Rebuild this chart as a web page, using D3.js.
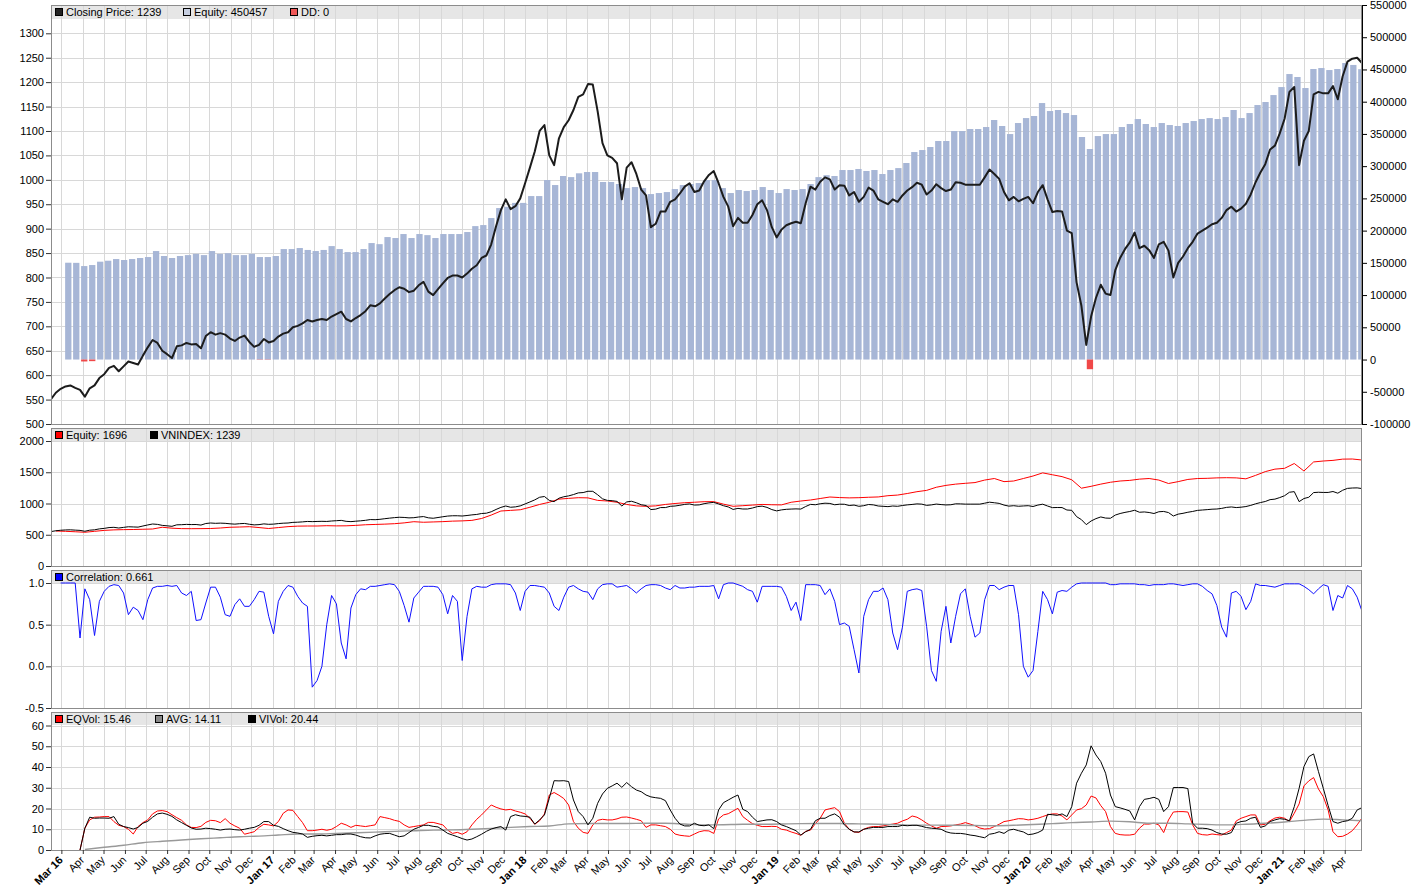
<!DOCTYPE html>
<html lang="en">
<head>
<meta charset="UTF-8">
<title>VNINDEX: equity, correlation and volatility</title>
<script src="https://d3js.org/d3.v7.min.js"></script>
<style>
  body { margin: 0; background: #fff; }
  svg text { font-family: "Liberation Sans", Arial, sans-serif; font-size: 11px; fill: #000; }
</style>
</head>
<body>
<svg id="chart" width="1412" height="891"></svg>
<script>
// weekly series, week 0 = 2016-02-15
const weekStart = "2016-02-15";
const axisEnd = "2021-04-26";

// VNINDEX closing price (weekly)
const closePrice = [
  551,564,572,577,579,574,570,556,573,579,
  594,602,615,619,608,618,628,625,622,640,
  657,672,666,650,643,635,659,661,666,663,
  664,655,680,688,683,686,683,675,670,677,
  681,668,658,662,674,667,670,679,685,688,
  698,701,706,713,710,713,715,713,720,725,
  730,715,710,717,723,731,743,741,747,757,
  766,774,780,777,770,773,784,791,771,764,
  776,788,799,804,804,800,808,818,825,840,
  845,868,905,938,960,940,946,962,993,1025,
  1058,1100,1112,1050,1030,1085,1108,1122,1143,1170,
  1175,1196,1195,1140,1075,1050,1045,1034,960,1025,
  1036,1012,980,968,903,910,935,935,955,960,
  972,986,993,975,978,997,1010,1018,993,965,
  945,905,922,912,912,928,950,958,938,903,
  882,898,907,911,914,911,952,986,980,996,
  1005,1001,980,989,988,968,975,955,965,984,
  978,960,955,950,960,955,968,978,985,994,
  990,970,978,991,983,977,980,995,994,990,
  990,990,990,1005,1021,1012,1002,975,958,965,
  956,961,965,952,975,989,960,934,936,935,
  896,891,790,742,662,720,758,785,767,764,
  815,840,858,872,892,860,865,856,840,868,
  873,855,800,830,843,860,873,890,896,902,
  909,912,922,938,945,935,941,951,970,995,
  1015,1032,1062,1070,1095,1125,1180,1190,1030,1080,
  1100,1175,1180,1177,1177,1192,1165,1212,1242,1248,
  1250,1239
];

// equity histogram, one bar every ~8 trading days
const firstBarDay = "2016-03-11";
const lastBarDay = "2021-04-25";
const equityBars = [
  150200,150000,145000,146600,151800,153300,155900,154400,155900,157500,
  159000,168300,160600,157500,160600,162000,164000,162000,168300,164000,
  165000,162000,162000,164000,159000,159000,160600,171400,171400,173000,
  170000,168300,170000,176000,171400,166700,166700,171400,180700,179000,
  190000,188500,194700,188500,194700,193000,188500,194700,194700,194700,
  197800,207000,208600,219500,235000,237000,243000,243000,253600,253600,
  278500,270700,284700,283000,288900,290900,290900,275400,275400,272300,
  266000,267600,266000,256700,258300,259800,264500,270700,272300,273800,
  278500,278500,266000,258300,263000,261400,263000,267600,263000,258300,
  264500,263000,264500,272300,283000,286000,284700,294000,294000,295600,
  292500,294000,287800,294000,297000,304900,321900,325000,329700,339000,
  339000,354500,354500,357600,357600,360700,371600,362300,349800,366900,
  374600,377800,397900,385500,387100,382400,379300,345200,326600,346700,
  349800,349800,360700,365400,373100,365400,360700,366900,363800,362300,
  366900,370000,373100,374600,373100,376200,387100,374600,382400,394800,
  399500,410300,422700,442900,438300,421200,450700,452200,449100,450700,
  460000,457000,450457
];
// drawdown bars (bar index, value)
const drawdownBars = [2, 3, 24, 25, 128];
const drawdownValues = [-3000, -2500, -400, -400, -15000];

// normalised equity, every second week starting at week 1
const equityLine = [
  560,555,548,540,555,570,578,582,584,588,
  592,620,605,598,597,598,600,608,620,624,
  629,615,600,615,630,638,640,640,645,642,
  643,650,660,665,670,677,690,709,700,705,
  710,718,722,730,760,815,880,890,900,940,
  985,1020,1070,1082,1093,1090,1050,1040,1020,985,
  962,955,962,985,1000,1013,1020,1029,1030,990,
  955,965,975,985,980,978,1020,1040,1056,1080,
  1104,1095,1090,1093,1100,1105,1125,1135,1160,1189,
  1210,1260,1290,1310,1323,1335,1375,1400,1350,1360,
  1400,1440,1490,1460,1430,1380,1245,1275,1310,1340,
  1360,1370,1390,1400,1375,1320,1350,1385,1400,1403,
  1410,1413,1410,1395,1450,1510,1550,1563,1640,1520,
  1665,1680,1690,1710,1712,1696
];

// correlation (weekly)
const correlation = [
  null,null,1.0,1.0,1.0,1.0,0.34,0.93,0.8,0.37,
  0.78,0.9,0.96,0.98,0.97,0.88,0.62,0.71,0.67,0.56,
  0.8,0.94,0.96,0.96,0.97,0.96,0.97,0.88,0.85,0.9,
  0.55,0.56,0.76,0.95,0.95,0.83,0.62,0.6,0.74,0.81,
  0.72,0.72,0.8,0.9,0.89,0.6,0.39,0.78,0.9,0.97,
  0.95,0.84,0.76,0.72,-0.25,-0.17,0.0,0.5,0.85,0.75,
  0.28,0.09,0.7,0.86,0.93,0.92,0.96,0.96,0.97,0.98,
  0.99,0.98,0.9,0.73,0.53,0.82,0.89,0.96,0.96,0.96,
  0.95,0.86,0.63,0.85,0.78,0.07,0.6,0.93,0.96,0.95,
  0.95,0.98,0.99,0.99,0.99,0.98,0.88,0.67,0.9,0.97,
  0.97,0.96,0.95,0.88,0.72,0.67,0.83,0.95,0.97,0.93,
  0.9,0.89,0.8,0.93,0.98,0.99,0.99,0.95,0.96,0.97,
  0.93,0.88,0.93,0.97,0.98,0.98,0.97,0.94,0.92,0.97,
  0.94,0.94,0.95,0.95,0.96,0.96,0.96,0.97,0.81,0.98,
  1.0,1.0,0.98,0.96,0.92,0.9,0.77,0.96,0.96,0.96,
  0.96,0.95,0.84,0.67,0.77,0.55,0.98,0.98,0.98,0.97,
  0.86,0.93,0.78,0.5,0.52,0.48,0.2,-0.08,0.6,0.8,
  0.9,0.9,0.94,0.8,0.4,0.2,0.47,0.9,0.92,0.93,
  0.91,0.48,-0.05,-0.18,0.42,0.72,0.28,0.6,0.87,0.93,
  0.6,0.35,0.4,0.8,0.97,0.97,0.92,0.95,0.97,0.97,
  0.62,0.0,-0.13,-0.05,0.42,0.9,0.8,0.63,0.89,0.91,
  0.9,0.95,0.99,1.0,1.0,1.0,1.0,1.0,1.0,0.98,
  0.98,0.99,0.99,0.99,0.99,0.98,0.98,0.97,0.98,0.98,
  0.98,0.99,0.99,0.98,0.97,0.98,0.99,0.99,0.96,0.91,
  0.87,0.73,0.47,0.35,0.88,0.9,0.84,0.68,0.78,0.99,
  0.97,0.97,0.96,0.95,0.97,0.99,0.99,0.99,0.99,0.96,
  0.92,0.87,0.93,0.98,0.96,0.67,0.85,0.82,0.97,0.93,
  0.83,0.661
];

// equity volatility (weekly)
const eqVol = [
  null,null,null,null,null,null,0,10.5,14.5,15.8,
  15.9,16.1,16.1,13.7,11.9,11.3,10,7.7,11.3,13.2,
  14.5,17.4,18.8,19.0,18.5,17.0,15.6,14.3,12.1,10.9,
  10.8,11.4,13.3,14.3,14.1,13.2,15.1,12.9,11.6,10.5,
  7.6,8.2,8.8,10.9,12.4,12.1,11.6,13.7,17.7,19.3,
  19.1,16.1,13.2,9.3,9.3,9.6,10,9.5,10,11.3,
  12.9,12.1,10.9,11.9,11.6,11.3,11.7,12.1,16.1,15.6,
  15.1,14.3,13.8,12.1,10.9,11.3,11.7,12.1,13.3,13.3,
  12.7,12.1,9.6,8.0,8.5,7.6,8.8,12.1,14.8,16.9,
  19.3,21.7,20.6,19.8,19.3,19.6,18.8,18.2,17.4,15.3,
  12.4,14.1,17.4,26.5,27.7,26.4,24.8,21.7,13.7,10.5,
  8.5,8.0,12.1,14.3,14.8,14.5,14.5,15.0,15.8,15.9,
  15.4,14.8,14.1,10.9,12.1,12.1,11.7,11.3,10.0,7.7,
  7.1,6.8,6.6,7.7,8.8,9.3,9.2,8.0,15.0,16.9,
  17.5,18.8,20.1,16.1,14.3,12.7,11.9,11.3,11.3,11.4,
  11.3,10,9.6,8.7,8.0,7.1,9.0,9.6,12.7,15.3,
  19.3,19.9,20.4,18.5,12.9,10,8.7,8.5,10,10.9,
  11.3,11.3,11.6,12.1,12.5,12.9,14,14.8,16.4,15.8,
  14.5,12.9,11.6,10.5,11.3,11.4,11.6,12.1,12.5,13.2,
  12.5,11.7,10.6,10.1,10.3,11.3,12.4,13.7,14.1,14.6,
  15.1,15.0,14.5,14.8,15.3,16.1,16.9,17.4,17.4,16.4,
  14.5,16.9,19.3,19.9,21.7,26,25.1,21.4,18.5,11.3,
  8.0,7.4,7.2,7.2,7.6,10.5,12.5,12.5,12.9,12.1,
  8.4,14.5,18.3,18.5,18.5,18.3,12.1,8.0,7.4,7.2,
  7.7,7.4,7.2,8.4,9.6,14.0,15.3,16.1,16.9,16.9,
  12.1,12.4,14.1,15.4,15.8,15.3,13.7,17.7,22.2,30.9,
  33.3,34.9,29.4,25.7,19.3,8.8,6.4,6.6,7.7,9.3,
  12.1,15.46
];

// index volatility (weekly)
const viVol = [
  null,null,null,null,null,null,0,10.5,15.8,15.3,
  15.4,15.4,15.3,16.1,12.4,11.3,10.8,10.1,10.9,12.9,
  13.8,15.8,17.4,17.8,17.2,16.2,14.5,13.2,11.9,10.6,
  10.0,10.1,10.5,10.3,10,9.6,10,10.1,9.8,9.6,
  10,10.5,10.9,11.9,13.7,13.7,11.9,11.4,10.3,9.3,
  8.5,8.2,7.7,6.1,6.6,6.9,7.1,6.8,7.1,7.4,
  7.4,7.7,7.7,7.2,6.4,5.9,5.8,6.8,7.6,7.9,
  8.0,7.2,6.4,6.8,8.4,10,10.9,11.9,11.9,11.4,
  11.1,9.6,8.0,7.2,6.4,5.5,4.8,5.3,6.4,7.6,
  9.0,10.1,10.8,11.3,9.6,16.1,17.0,16.4,16.2,15.8,
  12.5,14.5,16.9,24.9,33.4,33.3,33.4,33.0,24.1,18.5,
  16.1,12.1,15.3,22.5,27,29.7,30.9,32.2,30.2,32.5,
  30.5,28.9,28.1,26.5,25.6,25.2,24.9,23.8,19.3,15.3,
  12.5,11.6,11.6,12.9,11.9,11.7,12.1,10.3,19.3,22.8,
  24.1,25.4,26.5,19.6,18.5,15.8,13.7,14.1,14.5,14.6,
  13.7,12.1,11.3,10.3,9.3,7.2,8.8,10.0,14.1,15.3,
  15.3,16.6,17.4,15.8,12.1,10,8.7,8.7,10,10.5,
  10.9,10.9,10.9,11.3,11.3,11.3,11.9,11.7,11.9,11.9,
  11.4,10.8,10.5,10.3,10,8.8,8.2,8.0,8.0,7.7,
  7.2,6.9,6.4,5.9,7.6,8.0,8.8,8.0,9.6,10,
  9.3,8.7,7.4,7.7,8.4,9.6,17.2,17.0,16.7,17.4,
  16.1,20.9,32.2,37,41,50.2,45.8,42.6,37,26.5,
  20.9,20.3,19.6,18.8,14.5,20.9,24.4,24.8,25.4,24.4,
  18.5,20.9,30.1,30.1,30.1,29.6,12.9,10.5,10.5,10.3,
  9.6,8.4,7.7,7.6,8.4,12.9,13.7,14.0,15.3,15.8,
  10.9,11.6,13.7,14.5,15.1,14.8,14.1,20.9,29.7,40.2,
  45,46.3,37.8,29.7,21.4,13.7,12.9,13.7,14.1,15.3,
  19.3,20.44
];

// average volatility, every 4th week starting at week 7
const avgVol = [
  0.25,1.3,2.3,3.5,4.2,4.8,5.4,5.9,6.4,6.7,
  7.2,7.7,7.7,8.0,8.3,8.6,9.0,9.3,9.6,9.7,
  10.0,10.4,10.9,11.3,11.6,12.6,12.8,12.8,12.8,12.9,
  12.9,12.5,12.1,12.2,12.4,12.4,12.5,12.7,12.8,12.8,
  12.6,12.4,12.2,12.0,12.0,11.9,11.8,11.7,11.9,12.3,
  12.7,13.2,13.5,13.9,13.6,12.9,12.9,12.6,12.3,12.1,
  12.4,12.9,13.5,14.3,14.9,14.5,14.11
];

const priceTicks = d3.range(500, 1301, 50);
const equityTicks = d3.range(-100000, 550001, 50000);
const indexTicks = [0, 500, 1000, 1500, 2000];
const corrTicks = [-0.5, 0, 0.5, 1.0];
const volTicks = [0, 10, 20, 30, 40, 50, 60];

// ---------------------------------------------------------------
const left = 51, right = 1362;
const panels = [
  { top: 5, bottom: 424, band: 14 },
  { top: 428, bottom: 566, band: 13 },
  { top: 570, bottom: 708, band: 13 },
  { top: 712, bottom: 850, band: 13 }
];

// plain hyphen for negatives, like the original
const loc = d3.formatLocale({ decimal: ".", thousands: ",", grouping: [3], currency: ["", ""], minus: "-" });
const fmtInt = loc.format("d");
const fmt1 = loc.format(".1f");

const parse = d3.timeParse("%Y-%m-%d");
const t0 = parse(weekStart), t1 = parse(axisEnd);
const x = d3.scaleTime().domain([t0, t1]).range([left, right]);
const weekDate = k => d3.timeDay.offset(t0, 7 * k);
const months = d3.timeMonth.range(d3.timeMonth.ceil(t0), t1);

const svg = d3.select("#chart");
const defs = svg.append("defs");

function setupPanel(p, idx, yGrid, gridTicks) {
  defs.append("clipPath").attr("id", "clip" + idx)
    .append("rect")
    .attr("x", left).attr("y", p.top)
    .attr("width", right - left).attr("height", p.bottom - p.top);

  const g = svg.append("g");
  g.append("rect")
    .attr("x", left).attr("y", p.top)
    .attr("width", right - left).attr("height", p.band)
    .attr("fill", "#e6e6e6");

  g.append("g").selectAll("line").data(months).join("line")
    .attr("x1", d => Math.round(x(d)) + 0.5).attr("x2", d => Math.round(x(d)) + 0.5)
    .attr("y1", p.top).attr("y2", p.bottom)
    .attr("stroke", "#d8d8d8");

  g.append("g").selectAll("line").data(gridTicks).join("line")
    .attr("x1", left).attr("x2", right)
    .attr("y1", d => Math.round(yGrid(d)) + 0.5).attr("y2", d => Math.round(yGrid(d)) + 0.5)
    .attr("stroke", "#d8d8d8");

  const plot = g.append("g").attr("clip-path", `url(#clip${idx})`);
  return { g, plot };
}

function finishPanel(g, p, yAxisScale, ticks, fmt) {
  g.append("rect")
    .attr("x", left + 0.5).attr("y", p.top + 0.5)
    .attr("width", right - left - 1).attr("height", p.bottom - p.top)
    .attr("fill", "none").attr("stroke", "#8c8c8c");

  const ax = g.append("g").attr("transform", `translate(${left},0)`)
    .call(d3.axisLeft(yAxisScale).tickValues(ticks).tickSize(5).tickPadding(2).tickFormat(fmt));
  ax.select(".domain").remove();
  ax.selectAll(".tick line").attr("stroke", "#333");
}

function legend(g, p, items) {
  items.forEach(it => {
    g.append("rect")
      .attr("x", it.x + 0.5).attr("y", p.top + 3.5)
      .attr("width", 7).attr("height", 7)
      .attr("fill", it.color).attr("stroke", "#000");
    g.append("text")
      .attr("x", it.x + 11).attr("y", p.top + 11)
      .text(it.label);
  });
}

const lineGen = (xs, ys) => d3.line()
  .defined(d => d.v != null)
  .x(d => xs(d.t)).y(d => ys(d.v));

// ---------- panel 1: closing price + equity bars ----------
const p1 = panels[0];
const yPrice = d3.scaleLinear().domain([500, 1300]).range([p1.bottom, 33.3]);
const yEquity = d3.scaleLinear().domain([-100000, 550000]).range([p1.bottom, p1.top]);
const P1 = setupPanel(p1, 1, yPrice, priceTicks.slice(1));

const barX = d3.scaleLinear()
  .domain([0, equityBars.length - 1])
  .range([x(parse(firstBarDay)), x(parse(lastBarDay))]);
const barW = 6.3;

P1.plot.append("g").selectAll("rect").data(equityBars).join("rect")
  .attr("x", (d, i) => barX(i) - barW / 2)
  .attr("y", d => yEquity(d))
  .attr("width", barW)
  .attr("height", d => yEquity(0) - yEquity(d))
  .attr("fill", "#a7b6d6");

P1.plot.append("g").selectAll("rect").data(drawdownBars).join("rect")
  .attr("x", d => barX(d) - barW / 2)
  .attr("y", yEquity(0))
  .attr("width", barW)
  .attr("height", (d, i) => yEquity(drawdownValues[i]) - yEquity(0))
  .attr("fill", "#f04848");

const priceData = closePrice.map((v, k) => ({ t: weekDate(k), v }));
P1.plot.append("path").datum(priceData)
  .attr("d", lineGen(x, yPrice))
  .attr("fill", "none").attr("stroke", "#1c1c1c").attr("stroke-width", 2)
  .attr("stroke-linejoin", "round");

finishPanel(P1.g, p1, yPrice, priceTicks, fmtInt);

const rAxis = P1.g.append("g").attr("transform", `translate(${right},0)`)
  .call(d3.axisRight(yEquity).tickValues(equityTicks).tickSize(5).tickSizeOuter(0)
    .tickPadding(3).tickFormat(fmtInt));
rAxis.select(".domain").attr("stroke", "#000");

legend(P1.g, p1, [
  { x: 55, color: "#222", label: "Closing Price: " + closePrice[closePrice.length - 1] },
  { x: 183, color: "#c6cee0", label: "Equity: " + equityBars[equityBars.length - 1] },
  { x: 290, color: "#f05858", label: "DD: 0" }
]);

// ---------- panel 2: equity vs index ----------
const p2 = panels[1];
const yIndex = d3.scaleLinear().domain([0, 2000]).range([p2.bottom, 441]);
const P2 = setupPanel(p2, 2, yIndex, indexTicks.slice(1));

const eqData = equityLine.map((v, j) => ({ t: weekDate(1 + 2 * j), v }));
P2.plot.append("path").datum(eqData)
  .attr("d", lineGen(x, yIndex))
  .attr("fill", "none").attr("stroke", "#ff0000").attr("stroke-width", 1);
P2.plot.append("path").datum(priceData)
  .attr("d", lineGen(x, yIndex))
  .attr("fill", "none").attr("stroke", "#000").attr("stroke-width", 1);

finishPanel(P2.g, p2, yIndex, indexTicks, fmtInt);
legend(P2.g, p2, [
  { x: 55, color: "#ff0000", label: "Equity: " + equityLine[equityLine.length - 1] },
  { x: 150, color: "#000", label: "VNINDEX: " + closePrice[closePrice.length - 1] }
]);

// ---------- panel 3: correlation ----------
const p3 = panels[2];
const yCorr = d3.scaleLinear().domain([-0.5, 1.0]).range([p3.bottom, 583]);
const P3 = setupPanel(p3, 3, yCorr, corrTicks.slice(1));

P3.plot.append("path").datum(correlation.map((v, k) => ({ t: weekDate(k), v })))
  .attr("d", lineGen(x, yCorr))
  .attr("fill", "none").attr("stroke", "#1010ff").attr("stroke-width", 1);

finishPanel(P3.g, p3, yCorr, corrTicks, fmt1);
legend(P3.g, p3, [
  { x: 55, color: "#0000ff", label: "Correlation: " + correlation[correlation.length - 1] }
]);

// ---------- panel 4: volatility ----------
const p4 = panels[3];
const yVol = d3.scaleLinear().domain([0, 60]).range([p4.bottom, 725.5]);
const P4 = setupPanel(p4, 4, yVol, volTicks.slice(1));

P4.plot.append("path").datum(eqVol.map((v, k) => ({ t: weekDate(k), v })))
  .attr("d", lineGen(x, yVol))
  .attr("fill", "none").attr("stroke", "#ff0000").attr("stroke-width", 1);
P4.plot.append("path").datum(avgVol.map((v, j) => ({ t: weekDate(7 + 4 * j), v })))
  .attr("d", lineGen(x, yVol).curve(d3.curveMonotoneX))
  .attr("fill", "none").attr("stroke", "#999").attr("stroke-width", 1.4);
P4.plot.append("path").datum(viVol.map((v, k) => ({ t: weekDate(k), v })))
  .attr("d", lineGen(x, yVol))
  .attr("fill", "none").attr("stroke", "#000").attr("stroke-width", 1);

finishPanel(P4.g, p4, yVol, volTicks, fmtInt);
legend(P4.g, p4, [
  { x: 55, color: "#ff0000", label: "EQVol: " + eqVol[eqVol.length - 1] },
  { x: 155, color: "#888", label: "AVG: " + avgVol[avgVol.length - 1] },
  { x: 248, color: "#000", label: "VIVol: " + viVol[viVol.length - 1] }
]);

// ---------- month axis ----------
const isYear = (d, i) => i === 0 || d.getMonth() === 0;
const gx = svg.append("g").attr("transform", `translate(0,${p4.bottom})`)
  .call(d3.axisBottom(x).tickValues(months).tickSize(4)
    .tickFormat((d, i) => isYear(d, i) ? d3.timeFormat("%b %y")(d) : d3.timeFormat("%b")(d)));
gx.select(".domain").remove();
gx.selectAll(".tick line").attr("stroke", "#333");
gx.selectAll(".tick text")
  .attr("x", 0).attr("y", 0).attr("dy", "0.35em")
  .attr("text-anchor", "end")
  .attr("transform", "translate(-1,8) rotate(-45)")
  .style("font-weight", (d, i) => isYear(d, i) ? "bold" : "normal");
</script>
</body>
</html>
